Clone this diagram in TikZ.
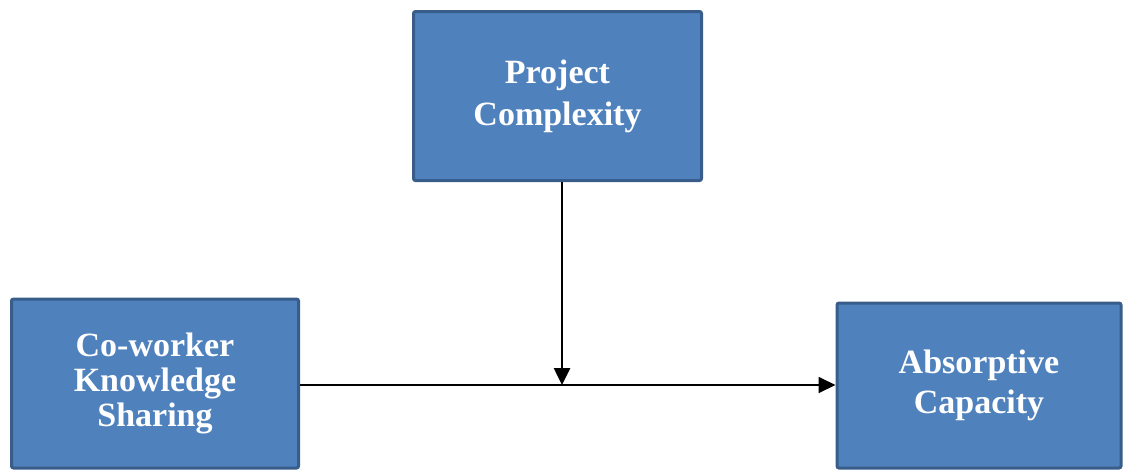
\documentclass[tikz,border=0pt]{standalone}
\usepackage{fontspec}
\setmainfont{Liberation Serif}
\usetikzlibrary{arrows.meta}
\definecolor{boxfill}{HTML}{4F81BD}
\definecolor{boxline}{HTML}{385D8A}
\begin{document}
\begin{tikzpicture}[x=1pt, y=-1pt,
    varbox/.style={draw=boxline, line width=3pt, fill=boxfill, rounded corners=2pt,
      text=white, align=center, font=\fontsize{34}{38}\selectfont\bfseries},
    link/.style={-{Triangle[length=17pt,width=16pt]}, black}]
  \useasboundingbox (0,0) rectangle (1124,471);
  % variables
  \node[varbox, minimum width=288pt, minimum height=169pt,
        font=\fontsize{34}{42}\selectfont\bfseries] (proj) at (557.5,96) {Project\\Complexity};
  \node[varbox, minimum width=287pt, minimum height=169pt,
        font=\fontsize{34}{35}\selectfont\bfseries] (cowork) at (155,383.5) {Co-worker\\Knowledge\\Sharing};
  \node[varbox, minimum width=284pt, minimum height=165pt,
        font=\fontsize{34}{40}\selectfont\bfseries] (absorb) at (979,385.5) {Absorptive\\Capacity};
  % paths
  \coordinate (mid) at (562,385);
  \draw[link, line width=1.8pt] (cowork.east |- mid) -- (absorb.west |- mid);
  \draw[link, line width=2.6pt] (proj.south -| mid) -- (mid);
\end{tikzpicture}
\end{document}
